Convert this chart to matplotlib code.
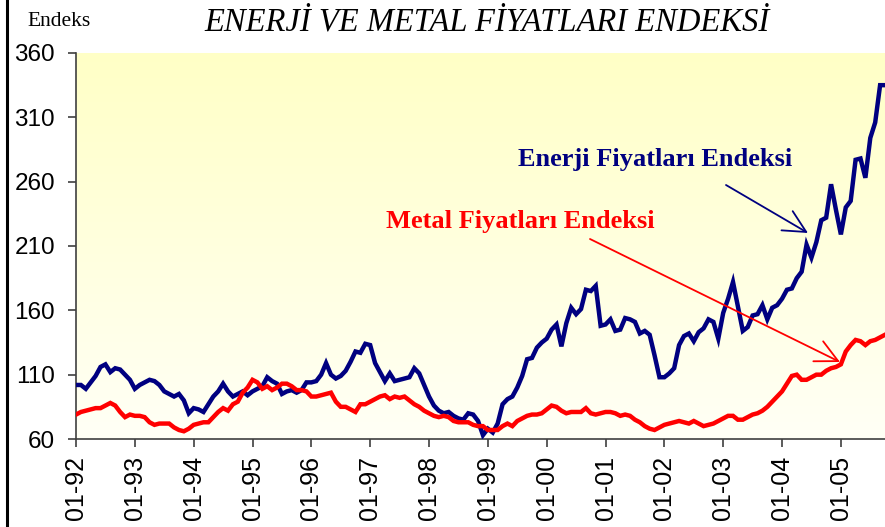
import matplotlib
matplotlib.use('Agg')
import matplotlib.pyplot as plt
import numpy as np
from matplotlib.colors import LinearSegmentedColormap
from matplotlib.lines import Line2D

# Monthly index: Jan 1992 (0) .. Oct 2005 (165)
months = list(range(166))
tick_pos = list(range(0, 157, 12))
tick_labels = ["01-92", "01-93", "01-94", "01-95", "01-96", "01-97", "01-98",
               "01-99", "01-00", "01-01", "01-02", "01-03", "01-04", "01-05"]
y_ticks = [60, 110, 160, 210, 260, 310, 360]

energy = [102, 102, 99, 104, 109, 116, 118, 112, 115, 114, 110, 106,
          99, 102, 104, 106, 105, 102, 97, 95, 93, 95, 90, 80,
          84, 83, 81, 87, 93, 97, 103, 97, 93, 95, 97, 94,
          97, 99, 101, 108, 105, 103, 95, 97, 98, 96, 98, 104,
          104, 105, 110, 119, 110, 107, 109, 113, 120, 128, 127, 134,
          133, 119, 112, 105, 111, 105, 106, 107, 108, 115, 111, 102,
          93, 86, 82, 80, 81, 78, 76, 75, 80, 79, 74, 63,
          68, 65, 72, 87, 91, 93, 100, 109, 122, 123, 131, 135,
          138, 145, 149, 132, 150, 162, 157, 161, 176, 175, 179, 148,
          149, 153, 144, 145, 154, 153, 151, 142, 144, 141, 125, 108,
          108, 111, 115, 133, 140, 142, 136, 143, 146, 153, 151, 138,
          158, 169, 182, 163, 144, 147, 156, 157, 164, 153, 162, 164,
          169, 176, 177, 185, 190, 211, 201, 213, 230, 232, 258, 238,
          219, 240, 245, 277, 278, 263, 294, 306, 335, 335]

metal = [79, 81, 82, 83, 84, 84, 86, 88, 86, 81, 77, 79,
         78, 78, 77, 73, 71, 72, 72, 72, 69, 67, 66, 68,
         71, 72, 73, 73, 77, 81, 84, 82, 87, 89, 96, 100,
         106, 104, 99, 101, 98, 100, 103, 103, 101, 98, 98, 97,
         93, 93, 94, 95, 96, 89, 85, 85, 83, 81, 87, 87,
         89, 91, 93, 94, 91, 93, 92, 93, 90, 87, 85, 82,
         80, 78, 77, 78, 77, 74, 73, 73, 73, 71, 70, 70,
         67, 67, 67, 70, 72, 70, 74, 76, 78, 79, 79, 80,
         83, 86, 85, 82, 80, 81, 81, 81, 84, 80, 79, 80,
         81, 81, 80, 78, 79, 78, 75, 73, 70, 68, 67, 69,
         71, 72, 73, 74, 73, 72, 74, 72, 70, 71, 72, 74,
         76, 78, 78, 75, 75, 77, 79, 80, 82, 85, 89, 93,
         97, 103, 109, 110, 106, 106, 108, 110, 110, 113, 115, 116,
         118, 128, 133, 137, 136, 133, 136, 137, 139, 141]

W, H = 885, 527
fig = plt.figure(figsize=(W / 100, H / 100), dpi=100)
fig.patch.set_facecolor('white')
ax = fig.add_axes([76 / W, 1 - 439 / H, (885 - 76) / W, (439 - 53) / H])

# background gradient
cmap = LinearSegmentedColormap.from_list('bg', ['#FFFFF6', '#FFFFC6'])
grad = np.linspace(0, 1, 256).reshape(-1, 1)
ax.imshow(grad, extent=[0, 1, 0, 1], transform=ax.transAxes, aspect='auto',
          cmap=cmap, origin='lower', zorder=0)

ax.plot(months, energy, color='#000080', lw=3.2, solid_joinstyle='miter', zorder=3)
ax.plot(months, metal, color='#FF0000', lw=3.2, solid_joinstyle='miter', zorder=3)

ax.set_xlim(0, 165)
ax.set_ylim(60, 360)
ax.set_xticks(tick_pos)
ax.set_xticklabels(tick_labels, rotation=90, family='Liberation Sans', fontsize=18)
ax.set_yticks(y_ticks)
ax.set_yticklabels([str(v) for v in y_ticks], family='Liberation Sans', fontsize=17.5)
ax.tick_params(axis='x', length=6, width=1.2, pad=6, color='#404040')
ax.tick_params(axis='y', length=6, width=1.2, pad=9, color='#404040')
for s in ['top', 'right']:
    ax.spines[s].set_visible(False)
for s in ['left', 'bottom']:
    ax.spines[s].set_color('#404040')
    ax.spines[s].set_linewidth(1.2)

# title & unit label
fig.text(487 / W, 1 - 22 / H, 'ENERJİ VE METAL FİYATLARI ENDEKSİ', ha='center', va='center',
         family='Liberation Serif', style='italic', fontsize=23.5)
fig.text(27 / W, 1 - 21 / H, 'Endeks', ha='left', va='center',
         family='Liberation Serif', fontsize=15.5)

# left frame line
fig.add_artist(Line2D([7 / W, 7 / W], [0, 1], color='black', lw=2.2))

# annotations
def px2data(px, py):
    return ((px - 76) / (885 - 76) * 165, 60 + (439 - py) / (439 - 53) * 300)

tx, ty = px2data(655, 160)
ax.text(tx, ty, 'Enerji Fiyatları Endeksi', ha='center', va='center', color='#000080',
        family='Liberation Serif', fontweight='bold', fontsize=19, zorder=4)
tx, ty = px2data(520, 222)
ax.text(tx, ty, 'Metal Fiyatları Endeksi', ha='center', va='center', color='#FF0000',
        family='Liberation Serif', fontweight='bold', fontsize=19, zorder=4)

ax.annotate('', xy=px2data(808, 233), xytext=px2data(726, 185),
            arrowprops=dict(arrowstyle='->,head_length=0.8,head_width=0.4', color='#000080',
                            lw=1.3, shrinkA=0, shrinkB=0, mutation_scale=20), zorder=4)
ax.annotate('', xy=px2data(840, 362), xytext=px2data(590, 239),
            arrowprops=dict(arrowstyle='->,head_length=0.8,head_width=0.4', color='#FF0000',
                            lw=1.3, shrinkA=0, shrinkB=0, mutation_scale=20), zorder=4)

fig.savefig('out.png', dpi=100)
